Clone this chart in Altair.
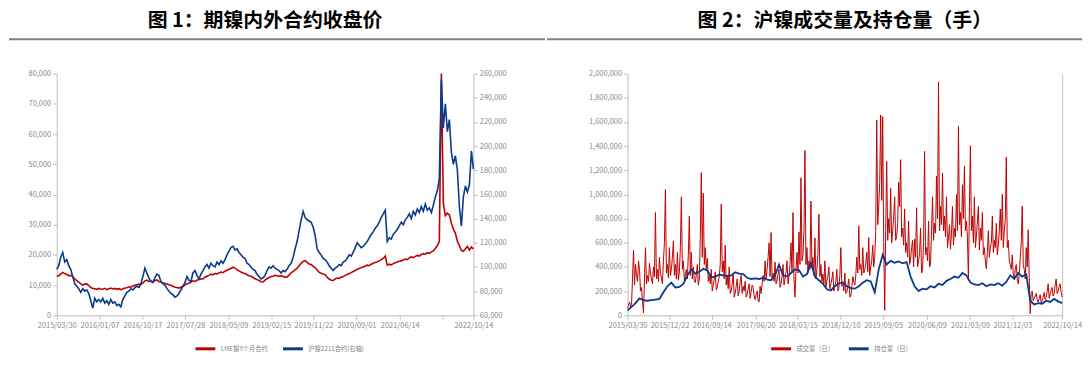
import altair as alt
import pandas as pd

START = "2015-03-30"
END = "2022-10-14"

title_left = "图 1：期镍内外合约收盘价"
title_right = "图 2：沪镍成交量及持仓量（手）"
series_left = ["LME镍3个月合约", "沪镍2211合约(右轴)"]
series_right = ["成交量（日）", "持仓量（日）"]

left_ticks = ["2015-03-30", "2016-01-07", "2016-10-17", "2017-07-28", "2018-05-09",
              "2019-02-15", "2019-11-22", "2020-09-01", "2021-06-14", "2022-03-24", "2022-10-14"]
left_hidden_tick = "2022/03/24"
right_ticks = ["2015-03-30", "2015-12-22", "2016-09-14", "2017-06-20", "2018-03-15",
               "2018-12-10", "2019-09-05", "2020-06-09", "2021-03-09", "2021-12-03", "2022-10-14"]

# LME nickel 3M close, thousand USD/t (left axis), evenly spaced through the period
lme_k = [12.9, 13.1, 13.6, 14.2, 13.8, 13.5, 13.1, 13.2, 12.8, 12.0,
         11.5, 11.0, 10.4, 10.0, 10.3, 10.4, 9.8, 9.2, 8.9, 8.8,
         8.6, 8.9, 8.7, 8.6, 8.9, 8.5, 8.8, 9.0, 8.7, 8.9,
         8.6, 8.8, 8.5, 8.7, 9.0, 9.1, 9.4, 9.3, 9.7, 9.9,
         10.1, 10.3, 10.2, 10.6, 11.4, 11.6, 11.2, 11.4, 11.0, 11.5,
         11.7, 11.2, 11.0, 10.8, 10.5, 10.4, 10.1, 9.9, 9.6, 9.3,
         9.2, 9.0, 9.3, 9.6, 10.0, 10.4, 10.6, 11.0, 11.4, 11.2,
         11.6, 11.8, 12.1, 12.0, 12.6, 12.9, 13.2, 13.6, 13.4, 13.8,
         13.7, 14.0, 14.3, 14.1, 14.6, 14.9, 15.2, 15.5, 15.9, 15.6,
         15.1, 14.7, 14.3, 14.0, 13.8, 13.4, 13.1, 12.9, 12.5, 12.1,
         11.8, 11.5, 11.1, 11.0, 11.6, 12.1, 12.5, 12.8, 12.9, 13.2,
         13.1, 12.9, 13.1, 12.8, 12.6, 12.7, 13.3, 14.0, 14.5, 15.0,
         15.6, 16.4, 17.2, 17.8, 18.1, 17.5, 17.0, 16.8, 16.2, 15.8,
         15.0, 14.2, 13.9, 13.7, 13.4, 12.6, 12.0, 11.6, 11.5, 12.0,
         12.3, 12.2, 12.6, 12.8, 13.2, 13.5, 13.8, 14.1, 14.5, 14.8,
         15.2, 15.5, 15.8, 16.0, 16.3, 16.6, 16.4, 16.9, 17.2, 17.5,
         17.7, 18.0, 18.4, 18.8, 19.6, 16.6, 16.9, 16.7, 17.1, 17.4,
         17.6, 17.9, 18.0, 18.3, 18.6, 18.4, 19.0, 19.3, 19.1, 19.5,
         19.8, 19.6, 20.1, 20.4, 20.2, 20.7, 20.5, 21.0, 21.3, 22.2,
         23.0, 24.5, 80.0, 37.0, 33.0, 33.8, 33.2, 30.5, 28.5, 27.2,
         24.5, 23.0, 21.5, 21.2, 22.0, 22.8, 21.6, 22.6, 22.0]

# SHFE nickel close, thousand CNY/t (right axis)
shfe_k = [98, 101, 108, 112, 104, 106, 101, 98, 92, 86,
          84, 82, 79, 82, 80, 81, 78, 72, 66, 74,
          71, 73, 71, 74, 70, 72, 69, 73, 70, 71,
          68, 69, 67, 73, 76, 79, 80, 82, 81, 83,
          84, 83, 86, 92, 99, 95, 91, 88, 87, 91,
          94, 93, 88, 86, 85, 82, 80, 78, 77, 75,
          76, 78, 81, 84, 87, 92, 89, 88, 95, 97,
          93, 90, 94, 97, 100, 102, 99, 103, 101, 100,
          104, 102, 105, 103, 106, 110, 113, 116, 117, 114,
          115, 112, 110, 108, 107, 103, 102, 100, 98, 97,
          94, 92, 90, 91, 93, 97, 100, 99, 101, 99,
          98, 97, 95, 97, 96, 98, 101, 103, 108, 115,
          121, 130, 139, 146, 141, 139, 138, 137, 133, 126,
          115, 112, 110, 107, 106, 104, 101, 99, 97, 99,
          100, 102, 101, 104, 105, 107, 110, 109, 112, 116,
          120, 118, 116, 117, 119, 121, 124, 127, 129, 132,
          134, 137, 141, 144, 147, 121, 124, 123, 127, 129,
          131, 134, 137, 135, 139, 141, 144, 140, 146, 143,
          148, 145, 150, 146, 152, 147, 149, 145, 151, 158,
          163, 173, 255, 215, 235, 212, 222, 195, 185, 192,
          180, 150, 134, 158, 167, 162, 168, 196, 181]

# SHFE nickel daily volume, thousand lots
volume_k = [60, 80, 110, 70, 90, 300, 540, 250, 420, 330, 280, 450, 380, 200, 230, 120, 20, 300, 560, 260,
            330, 280, 430, 350, 300, 260, 400, 320, 850, 300, 380, 280, 480, 350, 310, 260, 450, 600, 1040, 350,
            420, 310, 560, 330, 380, 480, 615, 330, 420, 300, 520, 290, 360, 560, 980, 380, 450, 290, 330, 380,
            300, 500, 820, 330, 520, 300, 400, 280, 270, 340, 420, 250, 300, 650, 1180, 480, 1010, 420, 560, 380,
            470, 280, 330, 260, 380, 200, 250, 300, 360, 210, 230, 280, 320, 420, 920, 360, 450, 300, 580, 250,
            330, 220, 400, 180, 200, 260, 350, 150, 180, 240, 300, 160, 200, 280, 330, 180, 240, 200, 280, 150,
            170, 220, 260, 140, 190, 250, 230, 160, 130, 170, 200, 120, 110, 240, 180, 260, 330, 280, 450, 300,
            380, 480, 600, 320, 685, 300, 350, 280, 440, 260, 290, 340, 380, 230, 260, 330, 420, 250, 300, 360,
            450, 260, 320, 420, 600, 350, 850, 300, 150, 380, 520, 350, 690, 420, 1137, 450, 500, 700, 1364, 420,
            560, 350, 450, 380, 945, 400, 480, 330, 640, 300, 380, 500, 835, 320, 420, 280, 340, 260, 450, 230,
            290, 320, 400, 220, 260, 300, 360, 200, 240, 280, 380, 200, 220, 330, 560, 240, 280, 200, 350, 180,
            190, 240, 300, 150, 160, 230, 320, 280, 250, 330, 480, 350, 740, 380, 420, 330, 560, 350, 380, 420,
            520, 360, 643, 330, 400, 450, 580, 400, 480, 700, 1616, 750, 900, 1100, 1658, 950, 1644, 600, 41, 700,
            1274, 620, 800, 680, 1050, 600, 700, 820, 980, 620, 650, 760, 1100, 900, 1288, 650, 720, 580, 880, 520,
            600, 480, 780, 420, 466, 560, 620, 400, 630, 480, 890, 400, 450, 520, 720, 350, 380, 600, 1356, 500,
            560, 450, 780, 400, 420, 700, 980, 620, 760, 680, 1150, 800, 1932, 700, 900, 750, 1178, 700, 820, 650,
            980, 560, 640, 750, 548, 680, 900, 580, 720, 650, 1000, 700, 1562, 750, 850, 650, 1080, 800, 1233, 700,
            780, 650, 288, 900, 1403, 700, 820, 600, 980, 560, 650, 780, 900, 540, 720, 620, 850, 500, 560, 450,
            384, 520, 700, 480, 560, 600, 820, 520, 620, 560, 760, 500, 580, 700, 880, 620, 1000, 560, 700, 800,
            1310, 560, 620, 450, 420, 380, 500, 340, 300, 380, 420, 300, 260, 340, 480, 600, 904, 420, 380, 300,
            560, 400, 707, 300, 14, 180, 200, 120, 140, 160, 180, 130, 110, 140, 170, 100, 120, 150, 190, 130,
            150, 200, 260, 140, 170, 210, 230, 160, 180, 250, 300, 180, 200, 240, 260, 190,
            150]

# SHFE nickel open interest, thousand lots
open_interest_k = [40, 70, 100, 140, 125, 120, 125, 130, 135, 190,
                   240, 270, 230, 235, 260, 330, 380, 345, 360, 385,
                   370, 315, 320, 335, 330, 325, 330, 355, 345, 340,
                   310, 300, 305, 300, 310, 295, 290, 330, 420, 330,
                   320, 350, 380, 375, 320, 340, 430, 320, 290, 260,
                   215, 205, 240, 265, 270, 240, 225, 220, 240, 270,
                   290, 280, 190, 380, 500, 420, 450, 435, 445, 430,
                   440, 320, 240, 200, 220, 215, 240, 230, 260, 250,
                   285, 300, 320, 310, 350, 330, 270, 255, 250, 265,
                   240, 255, 250, 265, 245, 275, 330, 300, 350, 320,
                   340, 120, 90, 100, 95, 120, 110, 135, 115, 100]

RED = "#C00000"
BLUE = "#0B3A8A"
FONT = "Noto Sans CJK SC"
W_L, W_R, H = 419, 437, 243


def dt(s):
    y, m, d = (int(p) for p in s.split("-"))
    return alt.DateTime(year=y, month=m, date=d)


def frame(values_k, name):
    return pd.DataFrame({
        "date": pd.date_range(START, END, periods=len(values_k)),
        "v": [v * 1000 for v in values_k],
        "s": name,
    })


def x_enc(ticks, hidden=None):
    fmt = "timeFormat(datum.value, '%Y/%m/%d')"
    expr = f"{fmt} == '{hidden}' ? '' : {fmt}" if hidden else fmt
    return alt.X("date:T",
                 scale=alt.Scale(domain=[dt(START), dt(END)]),
                 axis=alt.Axis(values=[dt(t) for t in ticks], labelExpr=expr,
                               labelFlush=False, labelOverlap=False, title=None))


def legend(x):
    return alt.Legend(orient="none", legendX=x, legendY=265, direction="horizontal",
                      title=None, symbolType="stroke", symbolStrokeWidth=3,
                      symbolSize=400, labelFontSize=6.3, labelColor="#7f7f7f",
                      labelFont=FONT, columnPadding=8, labelOffset=4)


def decorations(title, width, rule_from, rule_to):
    base = alt.Chart(alt.Data(values=[{}]))
    spacer = base.mark_rule(color="#ffffff", strokeWidth=1).encode(
        x=alt.value(0), x2=alt.value(2), y=alt.value(-64.5))
    rule = base.mark_rule(color="#808080", strokeWidth=2, strokeCap="square").encode(
        x=alt.value(rule_from), x2=alt.value(rule_to), y=alt.value(-34.5))
    text = base.mark_text(font=FONT, fontSize=20, fontWeight="bold", color="#000000",
                          baseline="middle", align="center").encode(
        x=alt.value(width / 2), y=alt.value(-53), text=alt.value(title))
    return spacer, rule, text


# ---- left panel ----
color_l = alt.Color("s:N", scale=alt.Scale(domain=series_left, range=[RED, BLUE]),
                    legend=legend(138))
xl = x_enc(left_ticks, left_hidden_tick)
lme_line = alt.Chart(frame(lme_k, series_left[0])).mark_line(strokeWidth=1.6).encode(
    x=xl,
    y=alt.Y("v:Q", scale=alt.Scale(domain=[0, 80000], nice=False),
            axis=alt.Axis(values=list(range(0, 80001, 10000)), format=",.0f", title=None)),
    color=color_l)
shfe_line = alt.Chart(frame(shfe_k, series_left[1])).mark_line(strokeWidth=1.6).encode(
    x=xl,
    y=alt.Y("v:Q", scale=alt.Scale(domain=[60000, 260000], nice=False),
            axis=alt.Axis(orient="right", values=list(range(60000, 260001, 20000)),
                          format=",.0f", title=None)),
    color=color_l)
sp_l, rule_l, text_l = decorations(title_left, W_L, -47, 490)
left = alt.layer(lme_line, shfe_line, sp_l, rule_l, text_l).resolve_scale(
    y="independent").properties(width=W_L, height=H)

# ---- right panel ----
color_r = alt.Color("s:N", scale=alt.Scale(domain=series_right, range=[RED, BLUE]),
                    legend=legend(143))
xr = x_enc(right_ticks)
yscale = alt.Scale(domain=[0, 2000000], nice=False)
vol_line = alt.Chart(frame(volume_k, series_right[0])).mark_line(strokeWidth=1.0).encode(
    x=xr,
    y=alt.Y("v:Q", scale=yscale,
            axis=alt.Axis(values=list(range(0, 2000001, 200000)), format=",.0f", title=None)),
    color=color_r)
oi_line = alt.Chart(frame(open_interest_k, series_right[1])).mark_line(strokeWidth=1.8).encode(
    x=xr,
    y=alt.Y("v:Q", scale=yscale,
            axis=alt.Axis(orient="right", labels=False, ticks=False, domain=True,
                          domainColor="#c0c0c0", title=None)),
    color=color_r)
sp_r, rule_r, text_r = decorations(title_right, W_R, -80, 456)
right = alt.layer(vol_line, oi_line, sp_r, rule_r, text_r).resolve_axis(
    y="independent").properties(width=W_R, height=H)

chart = alt.hconcat(left, right, spacing=0).resolve_scale(
    color="independent"
).properties(
    padding={"left": 0, "top": 0, "right": 0, "bottom": 0}
).configure_view(stroke=None).configure_axis(
    labelFont=FONT, labelFontSize=7.5, labelColor="#8a8a8a",
    domainColor="#c0c0c0", tickColor="#c0c0c0", tickSize=4, labelPadding=2, grid=False
)

chart.save("out.html", embed_options={"renderer": "svg", "actions": False})
